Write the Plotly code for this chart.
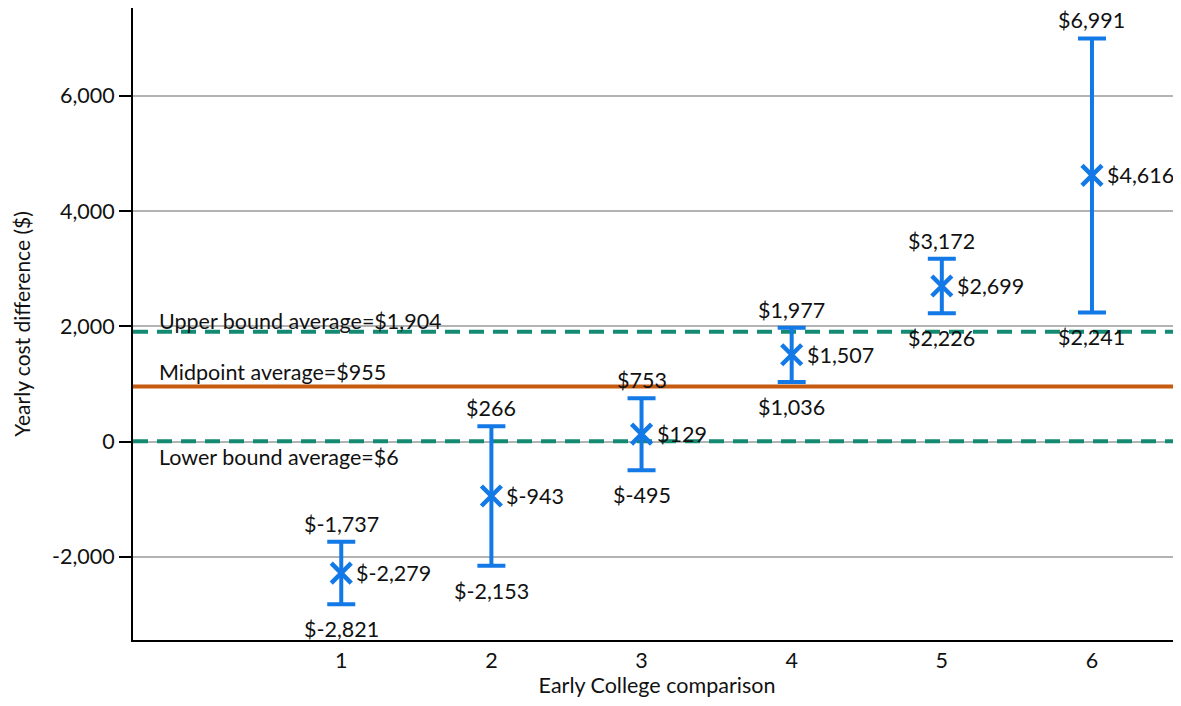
import plotly.graph_objects as go

comparisons = [1, 2, 3, 4, 5, 6]
midpoints = [-2279, -943, 129, 1507, 2699, 4616]
upper = [-1737, 266, 753, 1977, 3172, 6991]
lower = [-2821, -2153, -495, 1036, 2226, 2241]

upper_avg = 1904
mid_avg = 955
lower_avg = 6

y_ticks = [-2000, 0, 2000, 4000, 6000]
y_tick_labels = ["-2,000", "0", "2,000", "4,000", "6,000"]

BLUE = "#1379e6"
TEAL = "#158a72"
ORANGE = "#c55a11"
FONT = "Lato"
FS = 21.5

def money(v):
    return "$" + format(v, ",")

fig = go.Figure()

x_range = [-0.387, 6.593]

# reference lines
for val, color, dash in [(upper_avg, TEAL, "15px,9px"), (lower_avg, TEAL, "15px,9px"), (mid_avg, ORANGE, "solid")]:
    fig.add_trace(go.Scatter(x=x_range, y=[val, val], mode="lines",
                             line=dict(color=color, width=4, dash=dash),
                             hoverinfo="skip", showlegend=False, cliponaxis=False))

fig.add_trace(go.Scatter(
    x=comparisons, y=midpoints, mode="markers",
    marker=dict(symbol="x-thin", size=20, line=dict(color=BLUE, width=4.5), color=BLUE),
    error_y=dict(type="data", symmetric=False,
                 array=[u - m for u, m in zip(upper, midpoints)],
                 arrayminus=[m - l for m, l in zip(midpoints, lower)],
                 color=BLUE, thickness=4, width=14),
    showlegend=False))

annotations = []
for x, m, u, l in zip(comparisons, midpoints, upper, lower):
    annotations.append(dict(x=x, y=u, text=money(u), showarrow=False, xanchor="center",
                            yanchor="bottom", yshift=3))
    annotations.append(dict(x=x, y=l, text=money(l), showarrow=False, xanchor="center",
                            yanchor="top", yshift=-10))
    annotations.append(dict(x=x, y=m, text=money(m), showarrow=False, xanchor="left",
                            yanchor="middle", xshift=13))

annotations.append(dict(x=-0.23, y=upper_avg, text="Upper bound average=" + money(upper_avg),
                        showarrow=False, xanchor="left", yanchor="bottom", yshift=-4))
annotations.append(dict(x=-0.23, y=mid_avg, text="Midpoint average=" + money(mid_avg),
                        showarrow=False, xanchor="left", yanchor="bottom", yshift=0))
annotations.append(dict(x=-0.23, y=lower_avg, text="Lower bound average=" + money(lower_avg),
                        showarrow=False, xanchor="left", yanchor="top", yshift=-1))

for a in annotations:
    a["font"] = dict(family=FONT, size=FS, color="#111111")

fig.update_layout(
    width=1173, height=690,
    margin=dict(l=125, r=0, t=0, b=58),
    plot_bgcolor="white", paper_bgcolor="white",
    font=dict(family=FONT, size=FS, color="#111111"),
    annotations=annotations,
    xaxis=dict(range=x_range, tickvals=comparisons, ticktext=[str(c) for c in comparisons],
               showgrid=False, zeroline=False, showline=True, linecolor="black", linewidth=2,
               ticks="", tickfont=dict(size=FS), automargin=False,
               title=dict(text="Early College comparison", font=dict(size=21.5), standoff=11)),
    yaxis=dict(range=[-3440, 7520], tickvals=y_ticks, ticktext=y_tick_labels,
               showgrid=True, gridcolor="#b3b3b3", gridwidth=2, zeroline=False,
               showline=True, linecolor="black", linewidth=2,
               ticks="outside", ticklen=12, tickwidth=2, tickcolor="black",
               tickfont=dict(size=FS), automargin=False,
               title=dict(text="Yearly cost difference ($)", font=dict(size=21), standoff=16)),
)

fig.write_html("out.html")
